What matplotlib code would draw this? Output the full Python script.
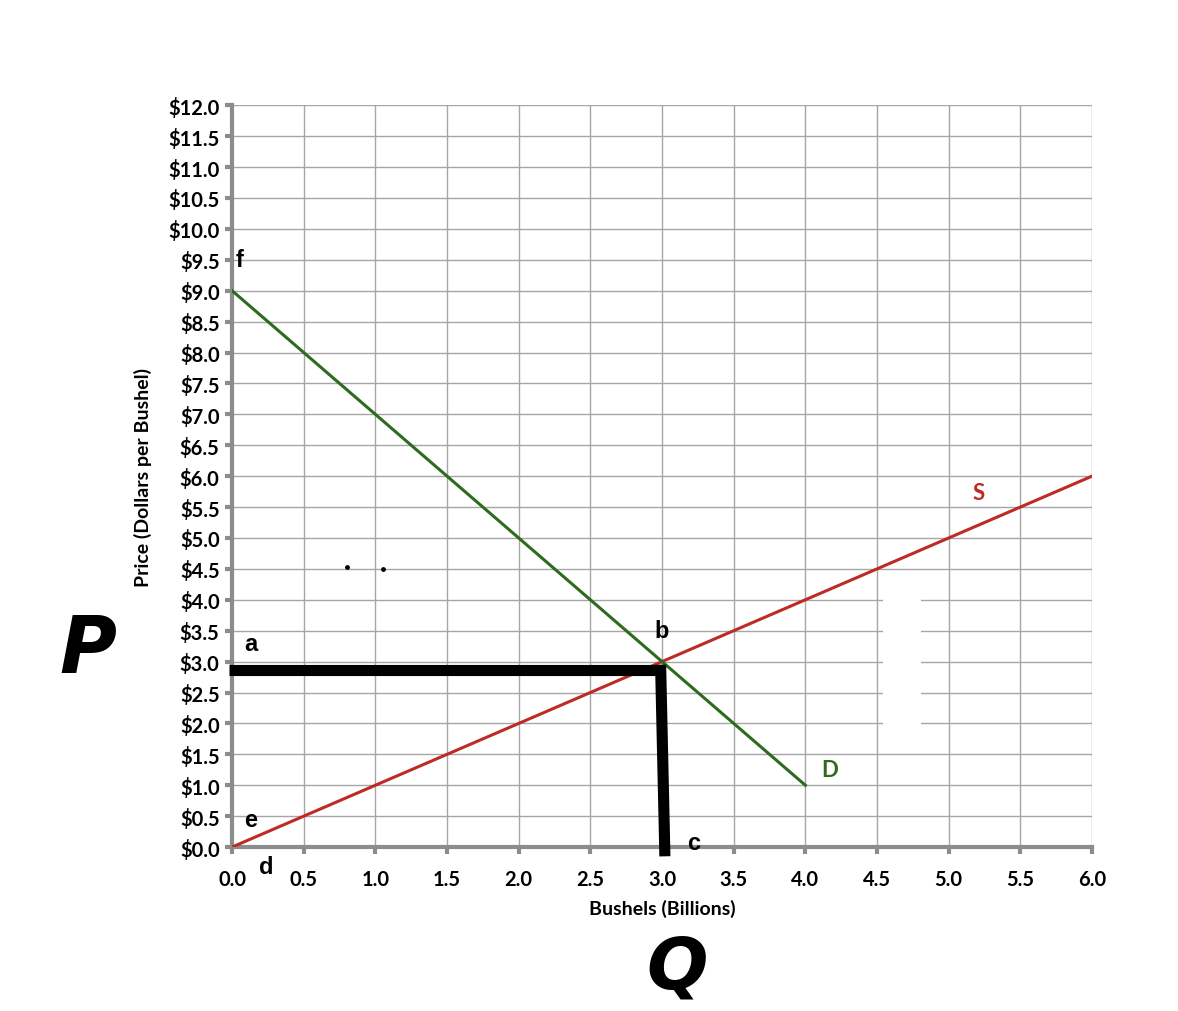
import numpy as np
import matplotlib.pyplot as plt
from matplotlib.patches import Rectangle

# supply and demand lines (billions of bushels, $ per bushel)
supply_q = [0.0, 6.0]
supply_p = [0.0, 6.0]
demand_q = [0.0, 4.0]
demand_p = [9.0, 1.0]

# hand drawn equilibrium marks
mark_h_q = [-0.02, 3.0]
mark_h_p = [2.87, 2.87]
mark_v_q = [2.99, 3.02]
mark_v_p = [2.95, -0.15]

dots_q = [0.80, 1.05]
dots_p = [4.53, 4.50]

point_labels = ['a', 'b', 'c', 'd', 'e', 'f']
point_q = [0.13, 3.0, 3.22, 0.24, 0.13, 0.05]
point_p = [3.3, 3.5, 0.07, -0.32, 0.45, 9.5]

x_ticks = np.arange(0, 6.01, 0.5)
y_ticks = np.arange(0, 12.01, 0.5)

red = '#be2a24'
green = '#2e6b1f'
grey = '#8c8c8c'

fig = plt.figure(figsize=(11.78, 10.12), dpi=100)
ax = fig.add_axes([0.197, 0.162, 0.730, 0.733])

ax.set_xlim(0, 6)
ax.set_ylim(0, 12)
ax.set_xticks(x_ticks)
ax.set_yticks(y_ticks)
ax.set_xticklabels([f'{v:.1f}' for v in x_ticks])
ax.set_yticklabels([f'${v:.1f}' for v in y_ticks])
ax.grid(True, color='#a6a6a6', linewidth=1.0)
ax.set_axisbelow(True)
for side in ['top', 'right']:
    ax.spines[side].set_visible(False)
for side in ['left', 'bottom']:
    ax.spines[side].set_color(grey)
    ax.spines[side].set_linewidth(3)
ax.tick_params(axis='both', direction='out', length=5, width=3, color=grey)
ax.tick_params(axis='x', pad=11)
ax.tick_params(axis='y', pad=4)
for lab in ax.get_xticklabels() + ax.get_yticklabels():
    lab.set_fontfamily('Lato')
    lab.set_fontweight('bold')
    lab.set_fontsize(14.5)

# gap in the grid
ax.add_patch(Rectangle((4.54, 1.9), 0.27, 2.2, facecolor='white',
                       edgecolor='none', zorder=1.5))

ax.plot(supply_q, supply_p, color=red, linewidth=2.2, zorder=3)
ax.plot(demand_q, demand_p, color=green, linewidth=2.2, zorder=3)

ax.plot(mark_h_q, mark_h_p, color='black', linewidth=8, solid_capstyle='butt',
        clip_on=False, zorder=4)
ax.plot(mark_v_q, mark_v_p, color='black', linewidth=8, solid_capstyle='butt',
        clip_on=False, zorder=4)
ax.scatter(dots_q, dots_p, s=6, color='black', zorder=4)

for lab, q, p in zip(point_labels, point_q, point_p):
    ax.text(q, p, lab, fontsize=17, fontweight='bold', family='Liberation Sans',
            ha='center', va='center', clip_on=False, zorder=5)

ax.text(5.21, 5.74, 'S', color=red, fontsize=16, fontweight='bold',
        family='Lato', ha='center', va='center')
ax.text(4.17, 1.25, 'D', color=green, fontsize=16, fontweight='bold',
        family='Lato', ha='center', va='center')

ax.set_xlabel('Bushels (Billions)', fontsize=14, fontweight='bold',
              family='Lato', labelpad=7)
ax.set_ylabel('Price (Dollars per Bushel)', fontsize=14, fontweight='bold',
              family='Lato', labelpad=12)

# handwritten P and Q
fig.text(0.075, 0.357, 'P', fontsize=56, fontweight='black', style='italic',
         family='DejaVu Sans', ha='center', va='center')
fig.text(0.575, 0.042, 'Q', fontsize=52, fontweight='black', style='italic',
         family='DejaVu Sans', ha='center', va='center')

fig.savefig('out.png', dpi=100, facecolor='white')
